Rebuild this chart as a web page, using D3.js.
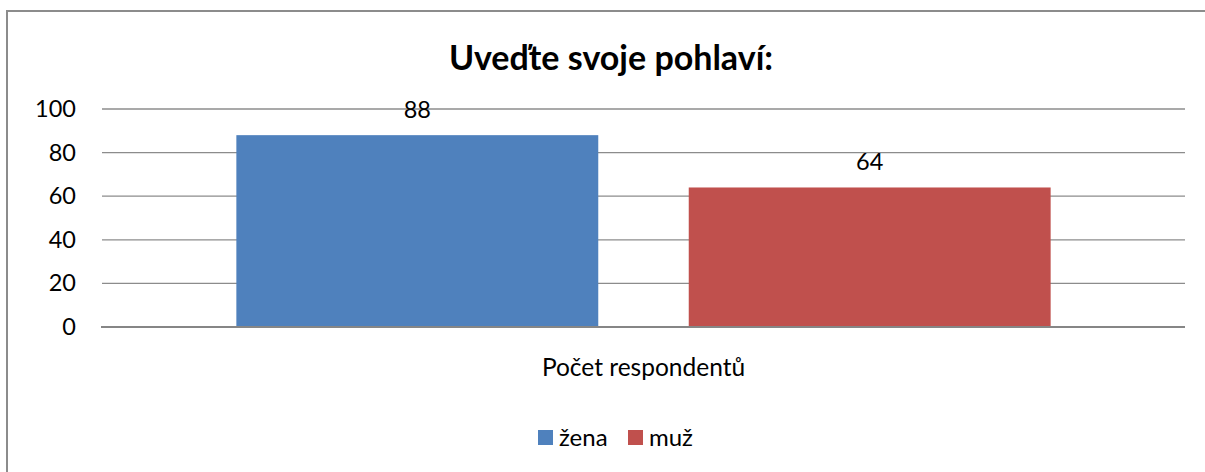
<!DOCTYPE html>
<html>
<head>
<meta charset="utf-8">
<script src="https://cdn.jsdelivr.net/npm/d3@7"></script>
<style>
  body { margin: 0; background: #fff; }
  svg { display: block; font-family: Lato, "Open Sans", sans-serif; }
</style>
</head>
<body>
<svg id="svg" width="1205" height="472"></svg>
<script>
// data
var categories = ["Počet respondentů"];
var series = ["žena", "muž"];
var values = [88, 64];
var yTicks = [0, 20, 40, 60, 80, 100];
var colors = ["#4F81BD", "#C0504D"];

var svg = d3.select("#svg");
var plotLeft = 102, plotRight = 1185, plotTop = 109, plotBottom = 327;

// chart frame (runs off the right and bottom edge)
svg.append("rect")
  .attr("x", 7).attr("y", 11)
  .attr("width", 1210).attr("height", 480)
  .attr("fill", "#fff")
  .attr("stroke", "#8c8c8c")
  .attr("stroke-width", 2);

svg.append("text")
  .attr("x", 611).attr("y", 70)
  .attr("text-anchor", "middle")
  .attr("font-size", 34)
  .attr("font-weight", "bold")
  .text("Uveďte svoje pohlaví:");

var y = d3.scaleLinear().domain([0, 100]).range([plotBottom, plotTop]);
var x0 = d3.scaleBand().domain(categories).range([plotLeft, plotRight]).paddingOuter(0.165).paddingInner(0);
var x1 = d3.scaleBand().domain(series).range([0, x0.bandwidth()]).paddingInner(0.2).paddingOuter(0);

// gridlines
svg.append("g").selectAll("line")
  .data(yTicks.filter(function(d) { return d > 0; }))
  .enter().append("line")
  .attr("x1", plotLeft).attr("x2", plotRight)
  .attr("y1", function(d) { return y(d); })
  .attr("y2", function(d) { return y(d); })
  .attr("stroke", "#8c8c8c")
  .attr("stroke-width", 1.3);

// y axis labels
var yAxis = d3.axisLeft(y).tickValues(yTicks).tickSize(0).tickPadding(26);
var ya = svg.append("g").attr("transform", "translate(" + plotLeft + ",0)").call(yAxis);
ya.select(".domain").remove();
ya.selectAll("text").attr("font-size", 23.5).attr("fill", "#000").attr("font-family", "Lato, sans-serif");

// bars
var g = svg.append("g").attr("transform", "translate(" + x0(categories[0]) + ",0)");
g.selectAll("rect")
  .data(series)
  .enter().append("rect")
  .attr("x", function(d) { return x1(d); })
  .attr("width", x1.bandwidth())
  .attr("y", function(d, i) { return y(values[i]); })
  .attr("height", function(d, i) { return y(0) - y(values[i]); })
  .attr("fill", function(d, i) { return colors[i]; });

g.selectAll("text.val")
  .data(series)
  .enter().append("text")
  .attr("class", "val")
  .attr("x", function(d) { return x1(d) + x1.bandwidth() / 2; })
  .attr("y", function(d, i) { return y(values[i]) - 17; })
  .attr("text-anchor", "middle")
  .attr("font-size", 23.5)
  .text(function(d, i) { return values[i]; });

// baseline
svg.append("line")
  .attr("x1", plotLeft - 1).attr("x2", plotRight)
  .attr("y1", y(0)).attr("y2", y(0))
  .attr("stroke", "#868686")
  .attr("stroke-width", 2);

// category label
var xAxis = d3.axisBottom(x0).tickSize(0).tickPadding(0);
var xa = svg.append("g").attr("transform", "translate(0," + (y(0) + 32) + ")").call(xAxis);
xa.select(".domain").remove();
xa.selectAll("text").attr("font-size", 24.5).attr("fill", "#000").attr("font-family", "Lato, sans-serif");

// legend
var legendX = [538, 628];
var lg = svg.append("g").selectAll("g")
  .data(series)
  .enter().append("g")
  .attr("transform", function(d, i) { return "translate(" + legendX[i] + ",430)"; });
lg.append("rect").attr("width", 15).attr("height", 15)
  .attr("fill", function(d, i) { return colors[i]; });
lg.append("text").attr("x", 21).attr("y", 16)
  .attr("font-size", 24)
  .text(function(d) { return d; });
</script>
</body>
</html>
